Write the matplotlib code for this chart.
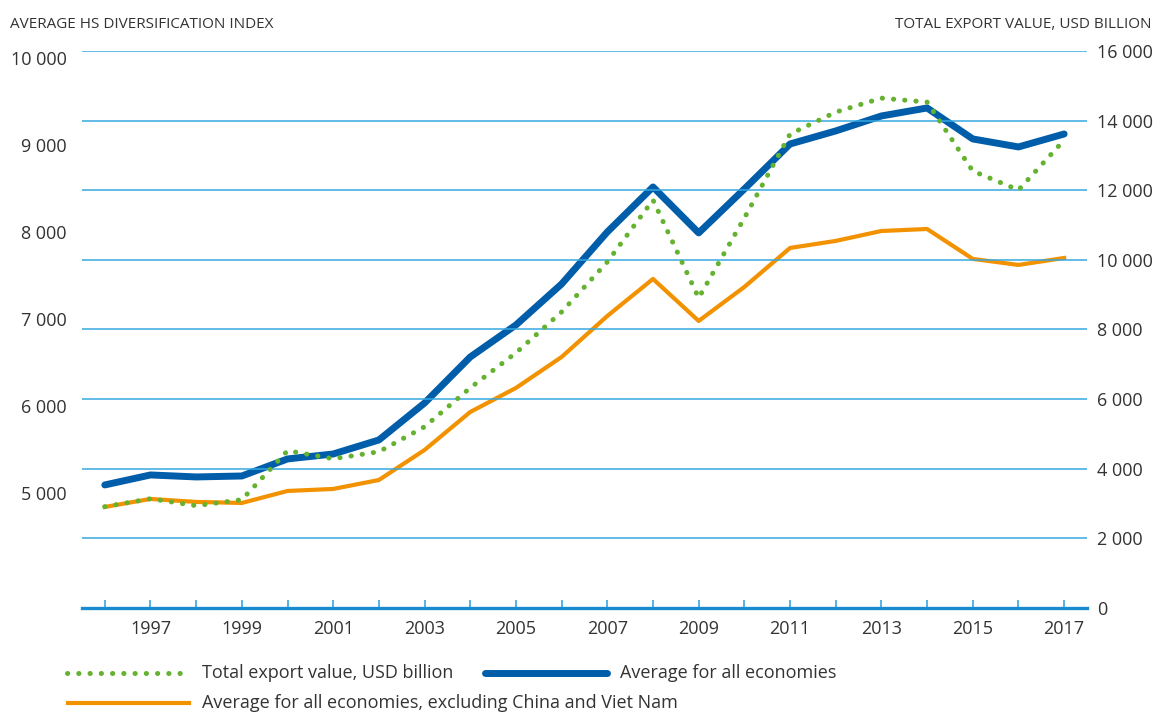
import matplotlib
matplotlib.use("Agg")
import matplotlib.pyplot as plt
from matplotlib.lines import Line2D
from matplotlib.ticker import FixedLocator, FuncFormatter

plt.rcParams['font.family'] = ['Open Sans', 'DejaVu Sans']

years = list(range(1996, 2018))

# average HS diversification index, all economies
avg_all = [5092, 5207, 5184, 5195, 5391, 5448, 5609, 6034, 6563, 6931, 7402,
           8000, 8517, 7989, 8494, 9011, 9161, 9333, 9425, 9069, 8977, 9126]
# excluding China and Viet Nam
avg_excl = [4839, 4931, 4897, 4885, 5023, 5046, 5149, 5494, 5931, 6207, 6563,
            7034, 7460, 6977, 7368, 7816, 7897, 8011, 8034, 7690, 7621, 7701]
# total export value, USD billion (right axis)
export_total = [2910, 3139, 2938, 3111, 4517, 4287, 4488, 5205, 6324, 7329, 8505,
                9940, 11719, 8907, 11203, 13613, 14244, 14646, 14531, 12551, 12006, 13441]

left_ticks = [5000, 6000, 7000, 8000, 9000, 10000]
right_ticks = [0, 2000, 4000, 6000, 8000, 10000, 12000, 14000, 16000]
label_years = list(range(1997, 2018, 2))

c_blue = '#005DAA'
c_orange = '#F39200'
c_green = '#64B22F'
c_grid = '#35A8E0'
c_text = '#333333'
dots = (0, (0.05, 2.2))

def thin_space(v, pos):
    return f"{int(v):,}".replace(",", " ")

fig = plt.figure(figsize=(11.56, 7.13), dpi=100)
ax = fig.add_axes([0.0709, 0.1473, 0.8694, 0.7812])
ax2 = ax.twinx()

# left axis (index)
ax.set_xlim(1995.5, 2017.5)
ax.set_ylim(3678, 10080)
ax.yaxis.set_major_locator(FixedLocator(left_ticks))
ax.yaxis.set_major_formatter(FuncFormatter(thin_space))
ax.tick_params(axis='y', length=0, pad=11, labelsize=13, labelcolor=c_text)

# right axis (export value) with the gridlines
ax2.set_ylim(0, 16000)
ax2.yaxis.set_major_locator(FixedLocator(right_ticks))
ax2.yaxis.set_major_formatter(FuncFormatter(thin_space))
ax2.tick_params(axis='y', length=0, pad=7, labelsize=13, labelcolor=c_text)
for t in right_ticks[1:]:
    ax2.axhline(t, color=c_grid, lw=1.1, zorder=0)

ax.set_xticks(years)
ax.set_xticklabels([str(y) if y in label_years else '' for y in years])
ax.tick_params(axis='x', direction='in', length=6, width=1.2, color=c_grid,
               pad=9, labelsize=13, labelcolor=c_text)

for a in (ax, ax2):
    for s in ('top', 'left', 'right'):
        a.spines[s].set_visible(False)
ax2.spines['bottom'].set_visible(False)
ax.spines['bottom'].set_color('#1A8BCF')
ax.spines['bottom'].set_linewidth(2.4)

ax.plot(years, avg_all, color=c_blue, lw=5, solid_capstyle='round', zorder=3)
ax.plot(years, avg_excl, color=c_orange, lw=3, zorder=3)
ax2.plot(years, export_total, color=c_green, lw=3.6, linestyle=dots,
         dash_capstyle='round', zorder=4)
ax2.set_zorder(ax.get_zorder() + 1)
ax2.patch.set_visible(False)

fig.text(0.0087, 0.965, 'AVERAGE HS DIVERSIFICATION INDEX', fontsize=11,
         color=c_text, ha='left', va='center')
fig.text(0.996, 0.965, 'TOTAL EXPORT VALUE, USD BILLION', fontsize=11,
         color=c_text, ha='right', va='center')

# legend, laid out by hand like the original
row1, row2 = 0.0561, 0.0140
fig.add_artist(Line2D([0.058, 0.1635], [row1, row1], color=c_green, lw=3.6,
                      linestyle=dots, dash_capstyle='round'))
fig.text(0.1745, row1, 'Total export value, USD billion', fontsize=13,
         color=c_text, va='center')
fig.add_artist(Line2D([0.4195, 0.5255], [row1, row1], color=c_blue, lw=5,
                      solid_capstyle='round'))
fig.text(0.536, row1, 'Average for all economies', fontsize=13,
         color=c_text, va='center')
fig.add_artist(Line2D([0.0588, 0.1635], [row2, row2], color=c_orange, lw=3))
fig.text(0.1745, row2, 'Average for all economies, excluding China and Viet Nam',
         fontsize=13, color=c_text, va='center')

fig.savefig('out.png', dpi=100, facecolor='white')
